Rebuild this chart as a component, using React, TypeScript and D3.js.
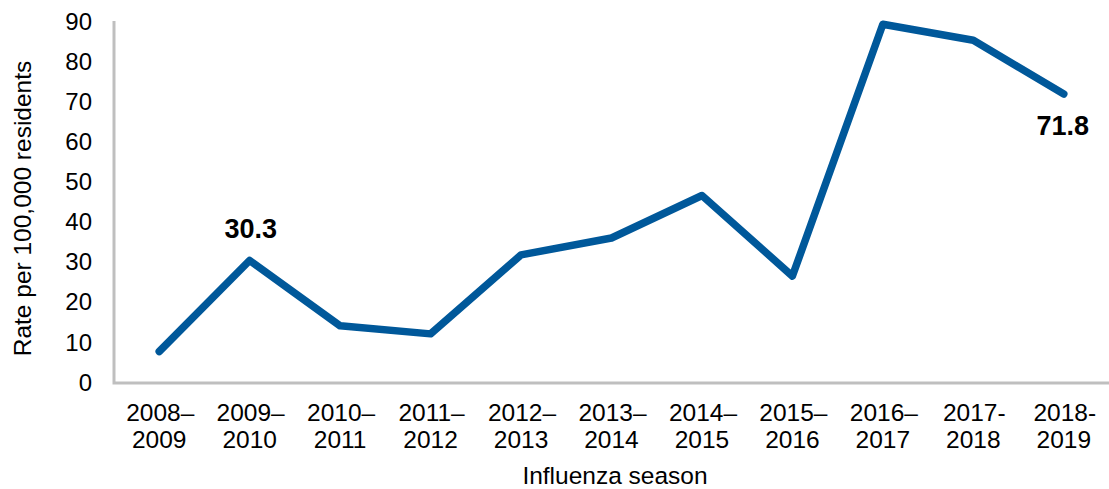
import { useEffect, useRef } from 'react'
import * as d3 from 'd3'

const SEASON_TOP = ['2008–', '2009–', '2010–', '2011–', '2012–', '2013–', '2014–', '2015–', '2016–', '2017-', '2018-']
const SEASON_BOTTOM = ['2009', '2010', '2011', '2012', '2013', '2014', '2015', '2016', '2017', '2018', '2019']
const RATES = [7.6, 30.3, 14.0, 12.0, 31.7, 35.9, 46.5, 26.4, 89.2, 85.2, 71.8]
const Y_TICKS = [0, 10, 20, 30, 40, 50, 60, 70, 80, 90]
const LABELLED = [1, 10]

const W = 1109
const H = 489
const FONT = 'Liberation Sans, Arial, sans-serif'

export default function App() {
  const svgRef = useRef<SVGSVGElement>(null)

  useEffect(() => {
    if (!svgRef.current) return
    const svg = d3.select(svgRef.current)
    svg.selectAll('*').remove()

    const x = d3.scaleBand().domain(SEASON_BOTTOM).range([114, 1109])
    const y = d3.scaleLinear().domain([0, 90]).range([382, 21])
    const cx = (i: number) => (x(SEASON_BOTTOM[i]) ?? 0) + x.bandwidth() / 2

    // ── Axes ─────────────────────────────────────────────────────────────
    svg.append('path')
      .attr('d', `M114,${y(90)}V${y(0) + 1}H${W}`)
      .attr('fill', 'none').attr('stroke', '#bfbfbf').attr('stroke-width', 3)

    svg.append('g').selectAll('text').data(Y_TICKS).join('text')
      .attr('x', 92).attr('y', (d) => y(d))
      .attr('dy', '0.36em').attr('text-anchor', 'end')
      .attr('font-family', FONT).attr('font-size', 24).attr('fill', '#000')
      .text((d) => d)

    const xl = svg.append('g').selectAll('text').data(SEASON_BOTTOM).join('text')
      .attr('text-anchor', 'middle')
      .attr('font-family', FONT).attr('font-size', 24.5).attr('fill', '#000')
    xl.append('tspan').attr('x', (_, i) => cx(i) + 1).attr('y', 421).text((_, i) => SEASON_TOP[i])
    xl.append('tspan').attr('x', (_, i) => cx(i)).attr('y', 448).text((d) => d)

    // ── Titles ───────────────────────────────────────────────────────────
    svg.append('text')
      .attr('transform', `translate(31,${y(45) + 7}) rotate(-90)`)
      .attr('text-anchor', 'middle')
      .attr('font-family', FONT).attr('font-size', 24.5).attr('fill', '#000')
      .text('Rate per 100,000 residents')

    svg.append('text')
      .attr('x', 615).attr('y', 484)
      .attr('text-anchor', 'middle')
      .attr('font-family', FONT).attr('font-size', 24.5).attr('fill', '#000')
      .text('Influenza season')

    // ── Line ─────────────────────────────────────────────────────────────
    const line = d3.line<number>().x((_, i) => cx(i)).y((d) => y(d))
    svg.append('path')
      .attr('d', line(RATES))
      .attr('fill', 'none').attr('stroke', '#00589a')
      .attr('stroke-width', 7.5).attr('stroke-linejoin', 'round').attr('stroke-linecap', 'round')

    // ── Value labels ─────────────────────────────────────────────────────
    svg.append('g').selectAll('text').data(LABELLED).join('text')
      .attr('x', (i) => cx(i) + (i === 1 ? 1 : -1))
      .attr('y', (i) => (i === 1 ? y(RATES[i]) - 22 : y(RATES[i]) + 41))
      .attr('text-anchor', 'middle')
      .attr('font-family', FONT).attr('font-size', 27).attr('font-weight', 'bold').attr('fill', '#000')
      .text((i) => RATES[i].toFixed(1))
  }, [])

  return (
    <svg ref={svgRef} width={W} height={H}
      style={{ position: 'absolute', left: 0, top: 0, background: '#fff' }} />
  )
}
